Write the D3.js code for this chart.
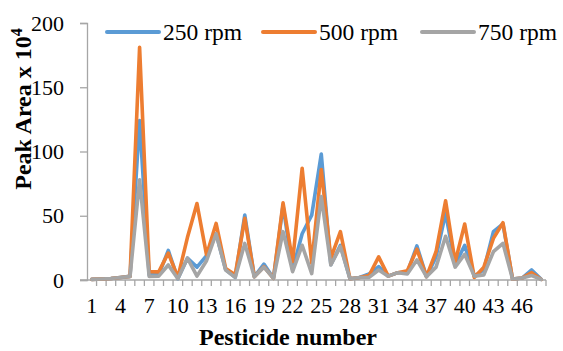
<!DOCTYPE html>
<html>
<head>
<meta charset="utf-8">
<script src="https://cdn.jsdelivr.net/npm/d3@7"></script>
<style>
  body { margin: 0; background: #fff; }
  svg { display: block; }
</style>
</head>
<body>
<div id="chart"></div>
<script>
// pesticide numbers 1..48
const pesticides = d3.range(1, 49);
const tickLabels = [1, 4, 7, 10, 13, 16, 19, 22, 25, 28, 31, 34, 37, 40, 43, 46];
const yTicks = [0, 50, 100, 150, 200];

const rpm250 = [0.5, 0.8, 1.2, 2, 2.8, 124, 4, 4, 23, 1, 17, 10, 19, 36, 8, 2,
  50.5, 2.6, 12.4, 1.3, 58, 8, 36, 50.5, 98, 12, 27, 1, 2, 4.7,
  10.4, 3, 5.7, 6, 26.5, 2.6, 18, 52, 12, 27, 3, 8, 37.6, 43.6, 0.8, 1.5, 7.8, 0.5];
const rpm500 = [0.5, 0.8, 1.2, 2, 2.8, 181, 6.5, 6.3, 21, 2, 33, 59.5, 19.5, 44, 9, 4,
  48, 2.6, 10.4, 1.3, 60, 14.3, 87, 13, 86, 17, 37.6, 1, 2, 3.5,
  18, 3, 5.7, 7.2, 24, 2.6, 22, 61.7, 14, 43.6, 2, 10, 32.4, 44.6, 0.8, 1.5, 5.7, 0.5];
const rpm750 = [0.5, 0.8, 1.2, 2, 2.8, 78, 2.8, 3, 11.7, 1, 17, 3, 15, 36, 7.8, 2,
  28.5, 2.6, 10, 1.3, 37.6, 6.5, 27, 5, 65, 11.7, 26, 1, 2, 2,
  7.8, 3, 5.7, 4.7, 15.6, 2.6, 10, 34, 10, 20, 3, 4, 22, 28.5, 0.8, 1.5, 3.5, 0.5];

const series = [
  { name: '250 rpm', values: rpm250, color: '#5b9bd5' },
  { name: '500 rpm', values: rpm500, color: '#ed7d31' },
  { name: '750 rpm', values: rpm750, color: '#a5a5a5' }
];

const width = 563;
const height = 351;
const margin = { top: 23, right: 17, bottom: 71, left: 87 };
const axisColor = '#a6a6a6';
const font = '"Liberation Serif", "Times New Roman", serif';

const svg = d3.select('#chart')
  .append('svg')
  .attr('width', width)
  .attr('height', height)
  .style('font-family', font);

const x = d3.scaleBand()
  .domain(pesticides)
  .range([margin.left, width - margin.right]);

const y = d3.scaleLinear()
  .domain([0, 200])
  .range([height - margin.bottom, margin.top]);

// y axis
const yAxis = svg.append('g')
  .attr('transform', `translate(${margin.left},0)`)
  .call(d3.axisLeft(y).tickValues(yTicks).tickSize(7).tickPadding(16));
yAxis.select('.domain').attr('stroke', axisColor).attr('stroke-width', 1.3);
yAxis.selectAll('.tick line').attr('stroke', axisColor).attr('stroke-width', 1.3);
yAxis.selectAll('.tick text')
  .attr('fill', '#000')
  .style('font-size', '22px')
  .style('font-family', font);

// x axis: ticks at category boundaries, labels every 3
const xAxis = svg.append('g')
  .attr('transform', `translate(0,${y(0)})`);
xAxis.append('line')
  .attr('x1', margin.left - 7)
  .attr('x2', width - margin.right)
  .attr('stroke', axisColor)
  .attr('stroke-width', 1.3);
xAxis.selectAll('line.tk')
  .data(pesticides)
  .enter().append('line')
  .attr('class', 'tk')
  .attr('x1', d => x(d) + x.bandwidth())
  .attr('x2', d => x(d) + x.bandwidth())
  .attr('y1', 0)
  .attr('y2', 6)
  .attr('stroke', axisColor)
  .attr('stroke-width', 1.3);
xAxis.selectAll('text')
  .data(tickLabels)
  .enter().append('text')
  .attr('x', d => x(d) + x.bandwidth() / 2)
  .attr('y', 33)
  .attr('text-anchor', 'middle')
  .style('font-size', '22px')
  .text(d => d);

// lines
const line = d3.line()
  .x((d, i) => x(pesticides[i]) + x.bandwidth() / 2)
  .y(d => y(d));

svg.selectAll('path.series')
  .data(series)
  .enter().append('path')
  .attr('class', 'series')
  .attr('d', d => line(d.values))
  .attr('fill', 'none')
  .attr('stroke', d => d.color)
  .attr('stroke-width', 3.6)
  .attr('stroke-linejoin', 'round')
  .attr('stroke-linecap', 'round');

// legend
const legendX = [107, 263, 422];
const legend = svg.selectAll('g.legend')
  .data(series)
  .enter().append('g')
  .attr('class', 'legend')
  .attr('transform', (d, i) => `translate(${legendX[i]},32)`);
legend.append('line')
  .attr('x1', 0).attr('x2', 52)
  .attr('stroke', d => d.color)
  .attr('stroke-width', 4)
  .attr('stroke-linecap', 'round');
legend.append('text')
  .attr('x', 56)
  .attr('y', 8)
  .style('font-size', '23.5px')
  .text(d => d.name);

// axis titles
svg.append('text')
  .attr('x', 288)
  .attr('y', 345)
  .attr('text-anchor', 'middle')
  .style('font-size', '24px')
  .style('font-weight', 'bold')
  .text('Pesticide number');

const yTitle = svg.append('text')
  .attr('transform', 'translate(31,109) rotate(-90)')
  .attr('text-anchor', 'middle')
  .style('font-size', '24px')
  .style('font-weight', 'bold');
yTitle.append('tspan').text('Peak Area x 10');
yTitle.append('tspan')
  .attr('dy', -9)
  .style('font-size', '16px')
  .text('4');
</script>
</body>
</html>
